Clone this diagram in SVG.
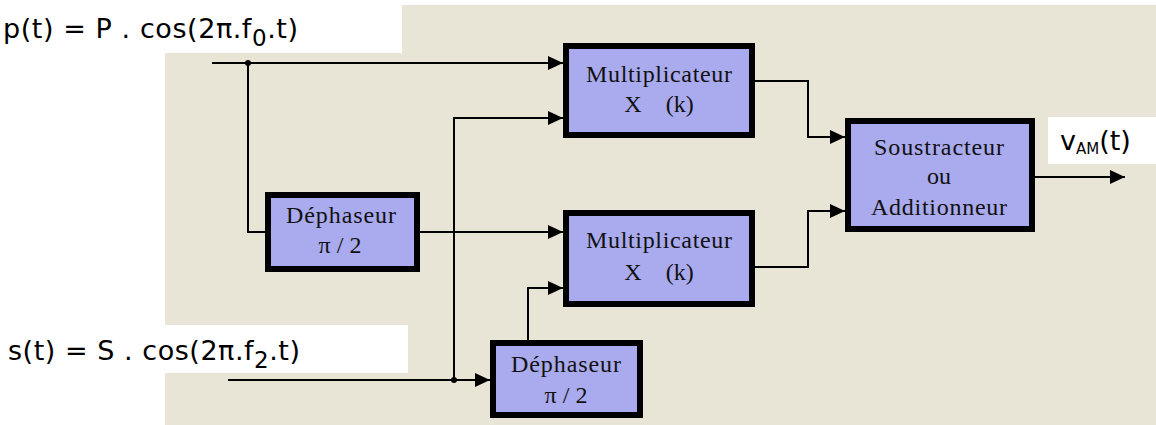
<svg xmlns="http://www.w3.org/2000/svg" width="1156" height="425" viewBox="0 0 1156 425">
<style>
.box{fill:#aaaaee;stroke:#000;stroke-width:6}
.bt{font-family:"Liberation Serif","Times New Roman",serif;font-size:24px;fill:#111;text-anchor:middle}
.lbl{font-family:"DejaVu Sans",Verdana,sans-serif;font-size:27px;fill:#000}
.sub{font-size:23px}
.w{fill:#fff}
.ln{fill:none;stroke:#000;stroke-width:2}
</style>
<defs>
<marker id="ah" viewBox="0 0 15 14" refX="15" refY="7" markerWidth="15" markerHeight="14" markerUnits="userSpaceOnUse" orient="auto">
<path d="M0,0 L15,7 L0,14 z" fill="#000"/>
</marker>
</defs>
<rect x="0" y="0" width="1156" height="425" fill="#fff"/>
<rect x="165" y="5" width="991" height="420" fill="#e9e5d6"/>

<g id="connectors">
<path class="ln" d="M212,63 H563" marker-end="url(#ah)"/>
<path class="ln" d="M248,63 V232 H265"/>
<path class="ln" d="M420,232 H563" marker-end="url(#ah)"/>
<path class="ln" d="M454,380 V118 H563" marker-end="url(#ah)"/>
<path class="ln" d="M228,380 H490" marker-end="url(#ah)"/>
<path class="ln" d="M528,340 V288 H563" marker-end="url(#ah)"/>
<path class="ln" d="M755,81 H808 V137 H845" marker-end="url(#ah)"/>
<path class="ln" d="M755,267 H808 V211 H845" marker-end="url(#ah)"/>
<path class="ln" d="M1035,177 H1125" marker-end="url(#ah)"/>
<circle cx="248" cy="63" r="3" fill="#000"/>
<circle cx="454" cy="380" r="3" fill="#000"/>
</g>

<g id="mult1">
<rect class="box" x="566" y="46" width="186" height="89"/>
<text class="bt" x="659" y="82" textLength="146">Multiplicateur</text>
<text class="bt" x="659" y="112" xml:space="preserve">X    (k)</text>
</g>
<g id="mult2">
<rect class="box" x="566" y="213" width="186" height="91"/>
<text class="bt" x="659" y="248" textLength="146">Multiplicateur</text>
<text class="bt" x="659" y="280" xml:space="preserve">X    (k)</text>
</g>
<g id="soustracteur">
<rect class="box" x="848" y="121" width="184" height="108"/>
<text class="bt" x="939" y="155" textLength="130">Soustracteur</text>
<text class="bt" x="939" y="184">ou</text>
<text class="bt" x="939" y="215" textLength="136">Additionneur</text>
</g>
<g id="dephaseur1">
<rect class="box" x="268" y="195" width="149" height="74"/>
<text class="bt" x="341" y="223" textLength="110">Déphaseur</text>
<text class="bt" x="340" y="253">π / 2</text>
</g>
<g id="dephaseur2">
<rect class="box" x="493" y="343" width="147" height="72"/>
<text class="bt" x="566" y="372" textLength="110">Déphaseur</text>
<text class="bt" x="566" y="403">π / 2</text>
</g>

<g id="label-p">
<rect class="w" x="0" y="0" width="402" height="53"/>
<text class="lbl" x="3" y="38" textLength="295">p(t) = P . cos(2π.f<tspan class="sub" dy="8">0</tspan><tspan dy="-8">.t)</tspan></text>
</g>
<g id="label-s">
<rect class="w" x="0" y="325" width="408" height="48"/>
<text class="lbl" x="8" y="360" textLength="292">s(t) = S . cos(2π.f<tspan class="sub" dy="8">2</tspan><tspan dy="-8">.t)</tspan></text>
</g>
<g id="label-v">
<rect class="w" x="1048" y="117" width="108" height="47"/>
<text class="lbl" x="1060" y="150">v<tspan style="font-size:15px" dy="4">AM</tspan><tspan dy="-4">(t)</tspan></text>
</g>
</svg>
